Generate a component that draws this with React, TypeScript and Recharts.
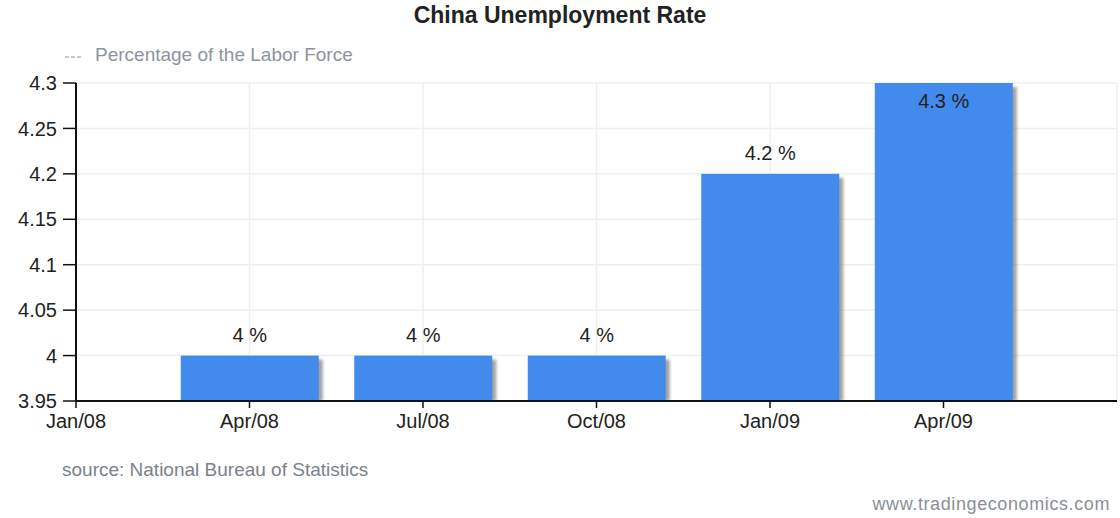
import { BarChart, Bar, XAxis, YAxis, CartesianGrid, LabelList } from "recharts";

const quarters = ["Jan/08", "Apr/08", "Jul/08", "Oct/08", "Jan/09", "Apr/09"];
const unemploymentRate = [null, 4.0, 4.0, 4.0, 4.2, 4.3];
const yTicks = [3.95, 4, 4.05, 4.1, 4.15, 4.2, 4.25, 4.3];
const xTicks = [0, 1, 2, 3, 4, 5];

const font = "'Liberation Sans', Arial, sans-serif";

const chartData = quarters.map((q, i) => ({ pos: i, quarter: q, rate: unemploymentRate[i] }));

const PLOT_TOP = 83;

// bar with the soft gray shadow bottom-right
const ShadowBar = (props: any) => {
  const { x, y, width, height } = props;
  if (!height || height <= 0) return null;
  return (
    <g>
      <rect x={x + 4} y={y + 4} width={width} height={height - 4} fill="#555" opacity={0.55} style={{ filter: "blur(1.5px)" }} />
      <rect x={x} y={y} width={width} height={height} fill="#428BEC" />
    </g>
  );
};

const ValueLabel = (props: any) => {
  const { x, y, width, value } = props;
  if (value == null) return null;
  // the top bar has no room above, so its label sits inside
  const ty = y - 30 < PLOT_TOP ? y + 18 : y - 21;
  return (
    <text x={x + width / 2} y={ty} textAnchor="middle" dominantBaseline="central" fontSize={20} fontFamily={font} fill="#222">
      {`${value} %`}
    </text>
  );
};

export default function App() {
  return (
    <div style={{ position: "absolute", left: 0, top: 0, width: 1120, height: 518, background: "#fff", fontFamily: font }}>
      <div style={{ position: "absolute", top: 2, left: 0, width: 1120, textAlign: "center", fontWeight: "bold", fontSize: 23, color: "#222" }}>
        China Unemployment Rate
      </div>
      <div style={{ position: "absolute", top: 44, left: 65, fontSize: 19, color: "#8a94a0", whiteSpace: "nowrap" }}>
        <svg width={16} height={10} style={{ marginRight: 14 }}>
          <line x1={0} y1={6} x2={16} y2={6} stroke="#8a94a0" strokeWidth={1} strokeDasharray="4 2" />
        </svg>
        Percentage of the Labor Force
      </div>
      <BarChart width={1120} height={518} data={chartData} margin={{ top: PLOT_TOP, right: 3, left: 0, bottom: 87 }}>
        <CartesianGrid stroke="#efefef" strokeWidth={1.5} />
        <XAxis
          dataKey="pos"
          type="number"
          domain={[0, 6]}
          ticks={xTicks}
          tickFormatter={(v: number) => quarters[v] ?? ""}
          height={30}
          tickSize={7}
          tickMargin={6}
          axisLine={{ stroke: "#111", strokeWidth: 2 }}
          tickLine={{ stroke: "#111", strokeWidth: 1.5 }}
          tick={{ fill: "#222", fontSize: 20, fontFamily: font }}
          allowDataOverflow
        />
        <YAxis
          type="number"
          domain={[3.95, 4.3]}
          ticks={yTicks}
          width={76}
          tickSize={13}
          tickMargin={6}
          axisLine={{ stroke: "#111", strokeWidth: 2 }}
          tickLine={{ stroke: "#111", strokeWidth: 1.5 }}
          tick={{ fill: "#222", fontSize: 20, fontFamily: font }}
          allowDataOverflow
        />
        <Bar dataKey="rate" barSize={138} shape={<ShadowBar />} isAnimationActive={false}>
          <LabelList dataKey="rate" content={<ValueLabel />} />
        </Bar>
      </BarChart>
      <div style={{ position: "absolute", top: 459, left: 62, fontSize: 19, color: "#7a828c", whiteSpace: "nowrap" }}>
        source: National Bureau of Statistics
      </div>
      <div style={{ position: "absolute", top: 494, right: 10, fontSize: 18, color: "#8a8f96", letterSpacing: 0.6, whiteSpace: "nowrap" }}>
        www.tradingeconomics.com
      </div>
    </div>
  );
}
